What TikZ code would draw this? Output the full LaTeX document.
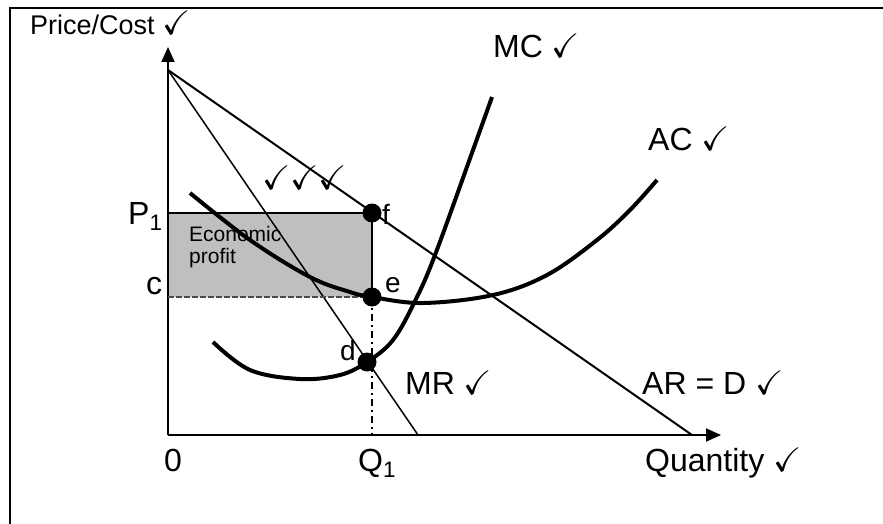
\documentclass[tikz,border=0pt]{standalone}
\usepackage{fontspec}
\setmainfont{Liberation Sans}
\usepackage{amssymb}
\usetikzlibrary{arrows.meta}
\newcommand{\chk}{{\fontsize{34}{34}\selectfont$\checkmark$}}

\begin{document}
\begin{tikzpicture}[x=1pt, y=-1pt,
  frame/.style={line width=2pt},
  axis/.style={line width=2pt, -{Triangle[length=15pt, width=13pt]}},
  revline/.style={line width=2pt},
  mrline/.style={line width=1.5pt},
  costcurve/.style={line width=4pt},
  dot/.style={circle, fill=black, inner sep=0pt, minimum size=19pt},
  lbl/.style={anchor=base west, inner sep=0pt, font=\fontsize{32}{36}\selectfont},
  small/.style={font=\fontsize{28}{32}\selectfont},
  profit/.style={fill=black!25, draw=none}
]
  \useasboundingbox (0,0) rectangle (883,524);
  \draw[frame] (10,530) |- (890,8);

  % axes and key points
  \coordinate (O) at (168,435);
  \coordinate (ytop) at (168,47);
  \coordinate (xend) at (721,435);
  \coordinate (top) at (168,70);
  \coordinate (arend) at (692,435);
  \coordinate (mrend) at (418,435);
  \coordinate (p1) at (168,213);
  \coordinate (c) at (168,297);
  \coordinate (q1) at (372,435);

  \fill[profit] (p1) rectangle (372,297);

  \draw[axis] (O) -- (ytop);
  \draw[axis] (O) -- (xend);
  \draw[revline] (top) -- (arend);
  \draw[mrline] (top) -- (mrend);

  \node[dot] (f) at (372,213) {};
  \node[dot] (e) at (372,297) {};
  \node[dot] (d) at (367,362) {};

  \draw[mrline] (p1) -- (f.center) -- (e.center);
  \draw[mrline, dash pattern=on 6pt off 2pt, black!70] (c) -- (e.center);
  \draw[mrline, dash pattern=on 7pt off 4pt on 2pt off 4pt] (e.center) -- (q1);

  % cost curves
  \draw[costcurve] plot[smooth, tension=0.6] coordinates {(190,193) (250,240) (310,277)
    (350,292) (372,297) (423,303) (493,295) (547,275) (597,240) (630,210) (657,180)};
  \draw[costcurve] plot[smooth, tension=0.6] coordinates {(213,342) (250,370) (300,379)
    (340,375) (367,362) (393,340) (415,301) (435,255) (473,150) (492,97)};

  % labels
  \node[lbl, font=\fontsize{27}{30}\selectfont] (pclbl) at (30,35) {Price/Cost \chk};
  \node[lbl] (mclbl) at (493,58) {MC \chk};
  \node[lbl] (aclbl) at (648,150) {AC \chk};
  \node[lbl] (mrlbl) at (405,394) {MR \chk};
  \node[lbl] (arlbl) at (642,394) {AR = D \chk};
  \node[lbl] (qlbl) at (645,471) {Quantity \chk};
  \node[lbl] (zerolbl) at (164,471) {0};
  \node[lbl] (q1lbl) at (358,471) {Q\textsubscript{1}};
  \node[lbl] (p1lbl) at (128,224) {P\textsubscript{1}};
  \node[lbl] (clbl) at (146,294) {c};
  \node[lbl, small] (elbl) at (385,292) {e};
  \node[lbl, small] (flbl) at (382,224) {f};
  \node[lbl, small] (dlbl) at (340,360) {d};
  \node[lbl] (ticks) at (262,189) {\chk\chk\chk};
  \node[anchor=north west, inner sep=0pt, align=left,
    font=\fontsize{21}{22}\selectfont] (eplbl) at (189,226) {Economic\\profit};
\end{tikzpicture}
\end{document}
